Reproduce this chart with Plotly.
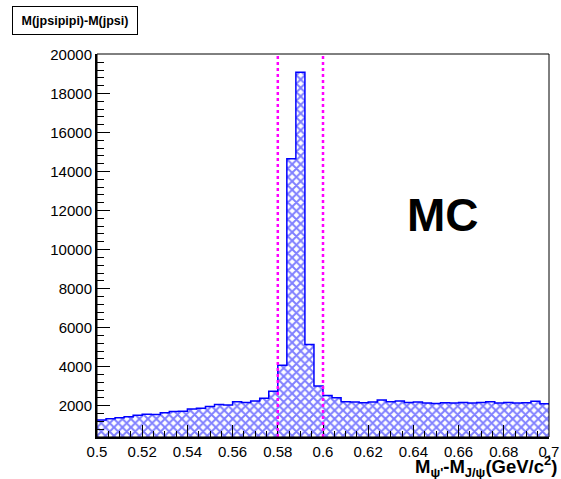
import plotly.graph_objects as go

# ---- data ----
x_min = 0.5
bin_width = 0.004
counts = [1270, 1335, 1390, 1440, 1520, 1560, 1550, 1640, 1710, 1720,
          1830, 1870, 1960, 2070, 2040, 2200, 2170, 2240, 2380, 2750,
          4080, 14660, 19090, 5140, 3010, 2530, 2410, 2205, 2190, 2155,
          2190, 2290, 2205, 2240, 2170, 2190, 2140, 2120, 2155, 2140,
          2170, 2140, 2170, 2205, 2140, 2170, 2140, 2155, 2225, 2100]
cut_lines = [0.58, 0.6]
x_tickvals = [0.5, 0.52, 0.54, 0.56, 0.58, 0.6, 0.62, 0.64, 0.66, 0.68, 0.7]
x_ticktext = ["0.5", "0.52", "0.54", "0.56", "0.58", "0.6", "0.62", "0.64", "0.66", "0.68", "0.7"]
y_tickvals = [2000, 4000, 6000, 8000, 10000, 12000, 14000, 16000, 18000, 20000]
y_ticktext = [str(v) for v in y_tickvals]

edges = [x_min + i * bin_width for i in range(len(counts) + 1)]
centers = [(edges[i] + edges[i + 1]) / 2 for i in range(len(counts))]

FONT = "Liberation Sans, Arial, Helvetica, sans-serif"
BLUE = "#0000ff"

fig = go.Figure()
fig.add_trace(go.Bar(
    x=centers, y=counts, width=[bin_width] * len(counts),
    marker=dict(color="white", line=dict(width=0),
                pattern=dict(shape="x", fgcolor=BLUE, bgcolor="white",
                             size=6, solidity=0.55)),
    showlegend=False, hoverinfo="skip",
))
# outline (step)
fig.add_trace(go.Scatter(
    x=edges, y=counts + [counts[-1]], mode="lines",
    line=dict(color=BLUE, width=1.5, shape="hv"),
    showlegend=False, hoverinfo="skip",
))

for xc in cut_lines:
    fig.add_shape(type="line", xref="x", yref="paper", x0=xc, x1=xc, y0=0, y1=1,
                  line=dict(color="#ff00ff", width=2.5, dash="dot"))

# frame
fig.add_shape(type="rect", xref="paper", yref="paper", x0=0, x1=1, y0=0, y1=1,
              line=dict(color="black", width=1))

axis_common = dict(
    showgrid=False, zeroline=False, showline=True, linecolor="black", linewidth=2,
    ticks="inside", tickcolor="black", tickwidth=1, automargin=False,
    tickfont=dict(family=FONT, size=15, color="black"),
)
fig.update_xaxes(range=[0.5, 0.7], tickvals=x_tickvals, ticktext=x_ticktext,
                 ticklen=12,
                 minor=dict(dtick=0.005, tick0=0.5, ticks="inside", ticklen=6,
                            tickcolor="black", tickwidth=1),
                 **axis_common)
fig.update_yaxes(range=[400, 20020], tickvals=y_tickvals, ticktext=y_ticktext,
                 ticklen=13,
                 minor=dict(dtick=400, tick0=0, ticks="inside", ticklen=7,
                            tickcolor="black", tickwidth=1),
                 **axis_common)

fig.add_annotation(text="<b>M(jpsipipi)-M(jpsi)</b>", xref="paper", yref="paper",
                   x=(75 - 97) / 452, y=(437 - 21) / 383, xanchor="center", yanchor="middle",
                   showarrow=False, font=dict(family=FONT, size=12.5, color="black"),
                   bordercolor="black", borderwidth=1, borderpad=6, bgcolor="white",
                   width=112, height=15)
fig.add_annotation(text="<b>MC</b>", xref="paper", yref="paper",
                   x=(443 - 97) / 452, y=(437 - 215) / 383, xanchor="center", yanchor="middle",
                   showarrow=False, font=dict(family=FONT, size=46, color="black"))
fig.add_annotation(text="<b>M<sub>ψ'</sub>-M<sub>J/ψ</sub>(GeV/c<sup>2</sup>)</b>",
                   xref="paper", yref="paper",
                   x=(559 - 97) / 452, y=(437 - 466) / 383, xanchor="right", yanchor="middle",
                   showarrow=False, font=dict(family=FONT, size=18.5, color="black"))

fig.update_layout(
    width=561, height=479,
    margin=dict(l=97, r=12, t=54, b=42),
    paper_bgcolor="white", plot_bgcolor="white",
    bargap=0, barmode="overlay",
    font=dict(family=FONT, color="black"),
)

fig.write_html("out.html")
